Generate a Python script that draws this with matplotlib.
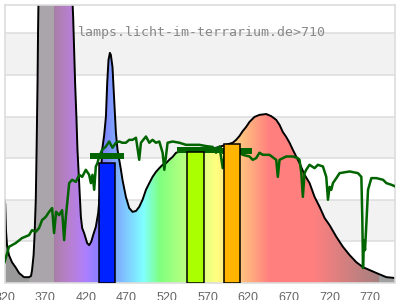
import numpy as np
import matplotlib
matplotlib.use("Agg")
import matplotlib.pyplot as plt
from matplotlib.patches import Polygon

# Lampenspektrum (schwarze Kurve), nm / relative Werte
lamp_nm = [320, 320.9, 321.8, 323.1, 325.5, 329.2, 334.2, 337.9, 344, 350.2, 352.7, 353.9,
           355.8, 357, 358.5, 359.5, 360.7, 361.3, 362, 365, 375, 390, 400, 403.6,
           404.5, 405.7, 406.9, 408.5, 409.8, 411.9, 414, 415.6, 418, 421.7, 424.2, 426.7,
           429.1, 432.4, 435.3, 437.8, 440.2, 442.7, 444.8, 446.4, 448, 449.7, 450.9, 452.9,
           455, 457.1, 459.1, 461.2, 463.3, 465.2, 469.4, 473.5, 477.6, 481.8, 485.8, 489.9,
           494.1, 498.2, 502.2, 506.4, 510.5, 514.6, 518.8, 522.8, 526.9, 531.1, 535.2, 543.4,
           551.6, 568.1, 580.4, 592.7, 600.9, 605.1, 609.1, 613.2, 617.4, 621.5, 627.6, 633.8,
           642.1, 648.2, 654.4, 658.5, 662.5, 666.7, 670.8, 674.9, 683.1, 689.3, 695.5, 701.6,
           707.8, 714, 720.1, 728.4, 736.5, 744.8, 753, 761.2, 769.5, 777.7, 790, 801]
lamp_val = [200, 190, 127, 91, 67, 50, 36, 24, 14, 14, 17, 31,
            67, 115, 200, 320, 488, 608, 700, 950, 1000, 980, 900, 680,
            639, 560, 481, 399, 320, 240, 159, 132, 120, 96, 91, 99,
            115, 135, 168, 224, 320, 356, 399, 481, 536, 553, 548, 519,
            440, 361, 320, 296, 272, 248, 207, 180, 171, 173, 183, 200,
            224, 240, 255, 267, 276, 284, 288, 296, 303, 313, 315, 317,
            320, 322, 325, 332, 337, 344, 353, 365, 375, 387, 399, 404,
            406, 401, 392, 380, 363, 351, 337, 320, 288, 260, 240, 207,
            183, 156, 139, 111, 87, 67, 50, 38, 31, 24, 14, 12]

# Vergleichsspektrum Tageslicht (gruene Linie)
sun_nm = [320, 325.5, 333.8, 341.6, 350.2, 353.9, 358.5, 362.5, 366.2, 370.8, 374.9, 378.6,
          381, 383.5, 387.2, 390.9, 393.4, 395.5, 399.6, 403.2, 407.8, 411.9, 415.6, 420.1,
          424.2, 426.3, 428.3, 430.4, 432.4, 434.4, 436.5, 440.2, 444.8, 448.8, 452.9, 457.1,
          461.2, 464.9, 469.4, 473.5, 477.6, 481.8, 485.8, 487.9, 494.1, 498.2, 502.2, 506.4,
          510.5, 514.6, 516.7, 520.7, 526.9, 535.2, 543.4, 551.6, 559.8, 568.1, 576.2, 580.4,
          584.6, 588.6, 591.9, 600.5, 609.1, 613.2, 621.5, 625.5, 629.7, 633.8, 637.9, 646.1,
          654.4, 656.4, 658.5, 666.7, 674.9, 681, 683.1, 685.3, 687.2, 689.3, 691.3, 695.4,
          701.6, 705.7, 711.9, 716, 718.1, 720.1, 722.2, 724.2, 728.4, 732.4, 744.8, 755,
          759.2, 760.4, 761.2, 762.4, 763.7, 765.4, 767.4, 771.5, 777.7, 785.9, 790, 796.2, 801]
sun_val = [50, 87, 96, 108, 115, 127, 123, 132, 151, 159, 171, 180,
           120, 171, 163, 175, 103, 159, 240, 248, 243, 260, 255, 272,
           260, 240, 260, 224, 280, 288, 304, 320, 328, 340, 325, 337,
           340, 337, 337, 344, 344, 349, 296, 337, 352, 337, 344, 337,
           340, 313, 272, 337, 340, 337, 332, 332, 332, 329, 327, 313,
           328, 276, 320, 320, 313, 308, 304, 296, 300, 313, 308, 308,
           296, 255, 296, 304, 304, 300, 296, 264, 207, 264, 272, 284,
           276, 284, 280, 255, 200, 231, 224, 240, 252, 264, 268, 264,
           255, 151, 36, 103, 79, 144, 224, 252, 252, 248, 240, 236, 232]

# Balken (blau, gruen, orange)
bar_nm = [446, 555, 600]
bar_val = [288, 314, 334]
bar_colors = ["#0022ff", "#aaff00", "#ffb400"]

# dicke Linien
thick_from = [425.4, 532, 588]
thick_to = [466.5, 588, 624]
thick_val = [305, 320, 316]

title = "lamps.licht-im-terrarium.de>710"
xticks = [320, 370, 420, 470, 520, 570, 620, 670, 720, 770]


def wl_color(nm):
    # Wellenlaenge -> Pastellfarbe
    if nm < 350:
        return (0.6, 0.6, 0.6)
    if nm < 380:
        return (0.67, 0.65, 0.67)
    if nm > 780:
        return (0.63, 0.63, 0.63)
    if nm < 440:
        r, g, b = -(nm - 440) / 60, 0, 1
    elif nm < 490:
        r, g, b = 0, (nm - 440) / 50, 1
    elif nm < 510:
        r, g, b = 0, 1, -(nm - 510) / 20
    elif nm < 580:
        r, g, b = (nm - 510) / 70, 1, 0
    elif nm < 645:
        r, g, b = 1, -(nm - 645) / 65, 0
    else:
        r, g, b = 1, 0, 0
    if nm < 420:
        f = 0.3 + 0.7 * (nm - 380) / 40
    elif nm > 700:
        f = 0.3 + 0.7 * (780 - nm) / 80
    else:
        f = 1.0
    return (0.5 + 0.5 * r * f, 0.5 + 0.5 * g * f, 0.5 + 0.5 * b * f)


fig = plt.figure(figsize=(4, 3), dpi=100)
ax = fig.add_axes([4.5 / 400, 17 / 300, 390.5 / 400, 278 / 300])

# Hintergrund-Streifen
for y0 in [100, 300, 500]:
    ax.axhspan(y0, y0 + 100, color="#f2f2f2", zorder=0, lw=0)
for y in range(100, 700, 100):
    ax.axhline(y, color="#dddddd", lw=1.1, zorder=0.5)

# Farbverlauf unter der Kurve
grid = np.linspace(320, 801, 962)
img = np.array([[wl_color(v) for v in grid]])
im = ax.imshow(img, extent=[320, 801, 0, 1100], aspect="auto", zorder=1,
               interpolation="nearest")
poly = Polygon(list(zip([320] + lamp_nm + [801], [0] + lamp_val + [0])),
               closed=True, transform=ax.transData)
im.set_clip_path(poly)
ax.plot(lamp_nm, lamp_val, color="black", lw=1.4, zorder=2)

ax.plot(sun_nm, sun_val, color="#006400", lw=1.8, zorder=3)
ax.hlines(thick_val, thick_from, thick_to, color="#006400", lw=4.3, zorder=3.5)
ax.bar(bar_nm, bar_val, width=20, color=bar_colors, edgecolor="black", lw=1.1,
       zorder=4)

ax.set_xlim(320, 800.6)
ax.set_ylim(0, 668)

ax.text(0.188, 0.9, title, transform=ax.transAxes, family="DejaVu Sans Mono",
        fontsize=9.5, color="#888888", va="center", ha="left", zorder=5)

ax.set_xticks(xticks)
ax.set_yticks([])
ax.tick_params(axis="x", length=0, pad=6.8, labelsize=9, labelcolor="#666666")
for lab in ax.get_xticklabels():
    lab.set_family("Liberation Sans")
for s in ax.spines.values():
    s.set_color("#dddddd")
    s.set_linewidth(1.2)

fig.savefig("out.png", dpi=100)
